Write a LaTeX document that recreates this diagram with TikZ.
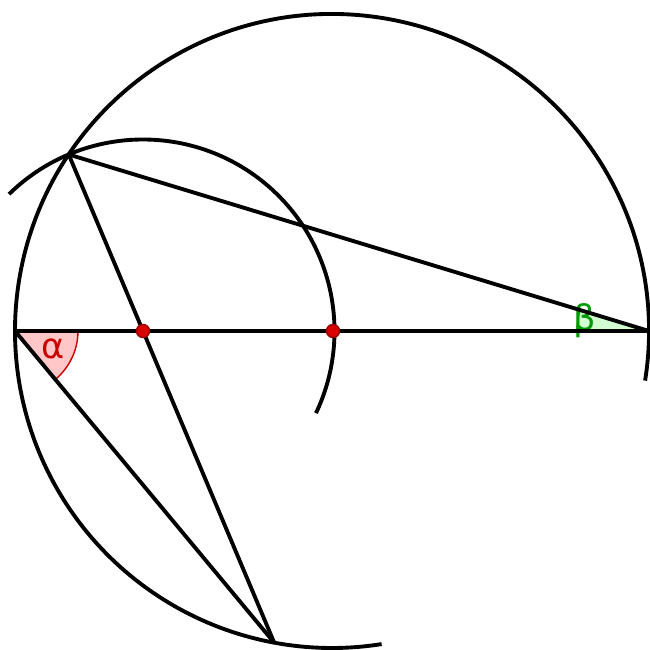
\documentclass[tikz,border=0pt]{standalone}
\usepackage{fontspec}
\setmainfont{DejaVu Sans}
\usepackage{xcolor}
\usetikzlibrary{positioning}

\begin{document}
\begin{tikzpicture}[line width=1.1pt,
  pt/.style={circle,fill=red!85!black,draw=red!60!black,line width=0.4pt,inner sep=0pt,minimum size=13pt*0.2845}]
  \useasboundingbox (0,0) rectangle (6.49,6.50);
  \coordinate (A) at (0.15,3.19);
  \coordinate (B) at (6.49,3.19);
  \coordinate (O) at (3.33,3.19);
  \coordinate (M) at (1.43,3.19);
  \coordinate (C) at (0.687,4.955);
  \coordinate (D) at (2.742,0.073);
  % angle sectors
  \fill[red!22] (A) -- ++(0:0.63) arc[start angle=0,end angle=-50.3,radius=0.63] -- cycle;
  \draw[red!80!black,line width=0.4pt] (A) ++(0:0.63) arc[start angle=0,end angle=-50.3,radius=0.63];
  \fill[green!18] (B) -- ++(180:0.72) arc[start angle=180,end angle=163.1,radius=0.72] -- cycle;
  \draw[green!60!black,line width=0.4pt] (B) ++(180:0.72) arc[start angle=180,end angle=163.1,radius=0.72];
  \node[red!80!black] (alpha) at (0.53,3.01) {α};
  \node[green!60!black] (beta) at (5.85,3.29) {β};
  % circles
  \draw (3.32,3.19) ++(-9:3.17) arc[start angle=-9,end angle=279,radius=3.17];
  \draw (M) ++(134.4:1.915) arc[start angle=134.4,end angle=-25.4,radius=1.915];
  % lines
  \draw (A) -- (B);
  \draw (C) -- (B);
  \draw (C) -- (D);
  \draw (A) -- (D);
  \node[pt] (m) at (M) {};
  \node[pt] (o) at (O) {};
\end{tikzpicture}
\end{document}
